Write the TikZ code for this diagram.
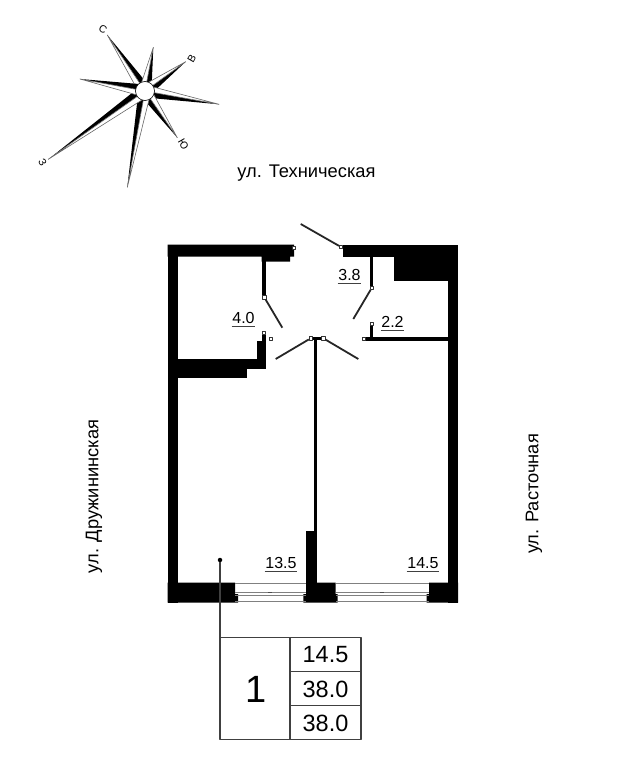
\documentclass[tikz,border=0pt]{standalone}
\usepackage{fontspec}
\setmainfont{Liberation Sans}
\usetikzlibrary{calc}
\tikzset{
	wall/.style={fill=black,draw=none},
	doorleaf/.style={draw=black!85,line width=1.8pt},
	jamb/.style={draw=black!80,fill=white,line width=.7pt,minimum size=3.2pt,inner sep=0pt,rectangle},
	glass/.style={draw=black!50,line width=.9pt},
	areanum/.style={font=\fontsize{16}{17}\selectfont,inner xsep=.5pt,inner ysep=2.5pt},
	street/.style={font=\fontsize{18.3}{20}\selectfont,inner sep=0pt},
	cell/.style={font=\fontsize{23.5}{25}\selectfont,inner sep=0pt},
	compassletter/.style={font=\fontsize{10.5}{11}\selectfont,inner sep=0pt},
	tablerule/.style={draw=black!75,line width=1.3pt}
}
\begin{document}
\begin{tikzpicture}[x=1pt,y=-1pt,line join=round]
	\useasboundingbox (0,0) rectangle (617,767);
	% compass
	\coordinate (cc) at (145,91);
	\foreach \nam/\tx/\ty in {north/107.3/35,nne/153.3/47.3,east/185.7/61.7,ese/219/104.3,south/177.3/137.7,ssw/127.3/187.3,west/48.3/159.3,wnw/80/79}{
		\coordinate (\nam) at (\tx,\ty);
		\fill[black] (\nam)--($(cc)!6.5pt!-90:(\nam)$)--(cc)--cycle;
		\filldraw[fill=white,draw=black!60,line width=.6pt] (\nam)--($(cc)!6pt!90:(\nam)$)--(cc)--cycle;
	}
	\filldraw[fill=white,draw=black,line width=.6pt] (cc) circle (9.5);
	\node[compassletter,rotate=-30] (lettern) at (103,29) {С};
	\node[compassletter,rotate=60] (lettere) at (191.7,58.3) {В};
	\node[compassletter,rotate=-60] (letters) at (183.3,144) {Ю};
	\node[compassletter,rotate=-60] (letterw) at (42.7,162.7) {З};
	% streets
	\node[street] (techn) at (306.5,173) {ул. Техническая};
	\node[street,rotate=90] (druzh) at (94,496.5) {ул. Дружининская};
	\node[street,rotate=90] (rast) at (534,494) {ул. Расточная};
	% outer walls
	\fill[wall] (167.5,244.5) rectangle (294,256.7) (290,256.7) rectangle (261.7,261.7);
	\fill[wall] (342.7,244.5) rectangle (458,256.7);
	\fill[wall] (167.5,244.5) rectangle (177.5,602.5);
	\fill[wall] (447.5,244.5) rectangle (458,602.5);
	\fill[wall] (394,256) rectangle (447.5,281);
	% partitions
	\fill[wall] (261.7,256) rectangle (266,297);
	\fill[wall] (370,256) rectangle (373.3,288);
	\fill[wall] (363.3,336.7) rectangle (447.5,340.7);
	\fill[wall] (370,323) rectangle (373.3,337);
	\fill[wall] (177,359.3) rectangle (266,369);
	\fill[wall] (177,369) rectangle (247.3,378.3);
	\fill[wall] (256.7,340.7) rectangle (266,360);
	\fill[wall] (261.7,332.7) rectangle (266,341);
	\fill[wall] (310.7,336.8) rectangle (323.3,339.8);
	\fill[wall] (314.3,338) rectangle (317.3,532);
	\fill[wall] (306,531) rectangle (317.3,590);
	% bottom blocks
	\fill[wall] (167.5,582.7) rectangle (235,594) (167.5,594) rectangle (238,602.5);
	\fill[wall] (306,582.7) rectangle (335.7,594) (303.3,594) rectangle (337.7,602.5);
	\fill[wall] (429,582.7) rectangle (458,594) (426.7,594) rectangle (458,602.5);
	% windows
	\foreach \xa/\xb/\xm in {235/306/270,336/429/381.7}{
		\draw[glass] (\xa,583)--(\xb,583) (\xa,592.3)--(\xb,592.3) (\xa,595.3)--(\xb,595.3) (\xa,601.8)--(\xb,601.8);
		\draw[draw=black!70,line width=1pt] (\xm-2,592.8)--(\xm+2,592.8);
	}
	% doors
	\node[jamb] (jent) at (341,247) {};
	\node[jamb] (jleft) at (264.3,297.3) {};
	\node[jamb] (jright) at (371.7,288) {};
	\node[jamb] (jbl) at (310.7,338.3) {};
	\node[jamb] (jbr) at (323.3,338.3) {};
	\coordinate (dent) at (300.7,224);
	\coordinate (dleft) at (282.3,327.7);
	\coordinate (dright) at (353.3,319);
	\coordinate (dbl) at (275.7,359);
	\coordinate (dbr) at (358.3,359);
	\draw[doorleaf] (jent)--(dent);
	\draw[doorleaf] (jleft)--(dleft);
	\draw[doorleaf] (jright)--(dright);
	\draw[doorleaf] (jbl)--(dbl);
	\draw[doorleaf] (jbr)--(dbr);
	% wall ends
	\foreach \x/\y in {294/247.5,264/333,270.5/338.5,363.5/338.7,371.7/323.5}{\node[jamb] at (\x,\y) {};}
	% area numbers
	\foreach \nam/\x/\y/\txt in {akitchen/243.5/318/4.0,ahall/349.5/275/3.8,abath/392.5/322/2.2,aroom/281/563/13.5,aloggia/423/563/14.5}{
		\node[areanum] (\nam) at (\x,\y) {\txt};
		\draw[draw=black!75,line width=1pt] (\nam.south west)--(\nam.south east);
	}
	% table
	\coordinate (tl) at (220,637.7);
	\node[circle,fill=black,inner sep=0pt,minimum size=4.5pt] (dot) at (220,560) {};
	\draw[tablerule] (dot)--(tl);
	\draw[tablerule] (tl) rectangle (361,739.3);
	\draw[tablerule] (290,637.7)--(290,739.3) (290,671.7)--(361,671.7) (290,705.3)--(361,705.3);
	\node[font=\fontsize{38}{40}\selectfont,inner sep=0pt] (flat) at (256,689) {1};
	\node[cell] (va) at (325.5,655) {14.5};
	\node[cell] (vb) at (325.5,689) {38.0};
	\node[cell] (vc) at (325.5,723) {38.0};
\end{tikzpicture}
\end{document}
